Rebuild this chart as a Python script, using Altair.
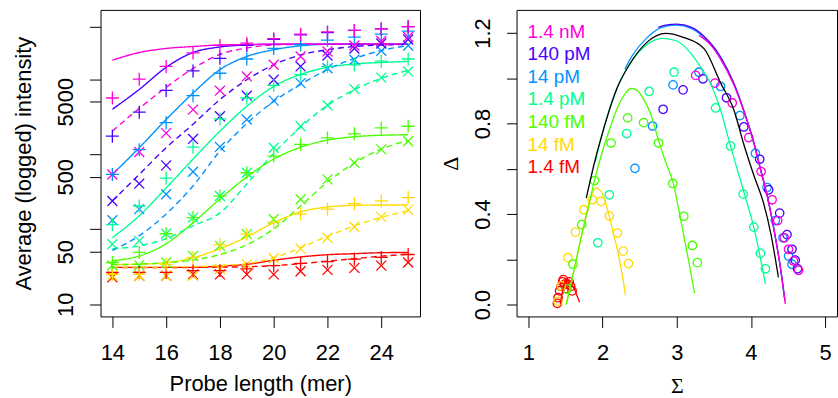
import altair as alt
import pandas as pd

# ---------------- shared categories ----------------
probe_lengths = [14, 15, 16, 17, 18, 19, 20, 21, 22, 23, 24, 25]
conc_labels = ["1.4 nM", "140 pM", "14 pM", "1.4 pM", "140 fM", "14 fM", "1.4 fM"]
conc_colors = ["#FF00DB", "#4900FF", "#0092FF", "#00FF92", "#49FF00", "#FFDB00", "#FF0000"]

# ---------------- left panel: observed "+" series ----------------
plus_1p4nM = [5620, 10000, 14800, 22400, 28200, 30200, 34700, 39800, 42700, 44700, 46800, 50100]
plus_140pM = [1740, 3630, 7080, 12900, 19000, 28200, 33900, 38900, 41700, 44700, 46800, 50100]
plus_14pM = [537, 1150, 2630, 6030, 12000, 18600, 25700, 28800, 33100, 36300, 39800, 43700]
plus_1p4pM = [115, 204, 479, 1240, 2950, 5620, 8300, 11500, 14800, 15500, 17400, 18600]
plus_140fM = [36, 49, 87, 143, 277, 566, 944, 1350, 1650, 1870, 2240, 2360]
plus_14fM = [25, 25, 34, 42, 62, 86, 123, 159, 185, 219, 238, 264]
plus_1p4fM = [26.5, 26.5, 26.5, 28, 28, 29.5, 32.7, 35, 37, 40, 42, 46]

# ---------------- left panel: observed "x" series ----------------
cross_1p4nM = [537, 1070, 1910, 3930, 7030, 10900, 15600, 20100, 23400, 28100, 32300, 36500]
cross_140pM = [238, 405, 710, 1600, 3210, 6030, 9840, 14800, 20700, 25700, 29900, 33800]
cross_14pM = [132, 185, 293, 584, 1250, 2900, 5180, 8870, 14000, 18200, 23900, 28100]
cross_1p4pM = [63, 70, 87, 143, 277, 566, 1220, 2360, 4490, 7390, 10500, 12700]
cross_140fM = [33, 33, 36, 44, 60, 86, 136, 251, 462, 770, 1160, 1490]
cross_14fM = [24, 24, 24, 24, 29.5, 34, 41, 55, 77, 108, 146, 181]
cross_1p4fM = [22.9, 24, 24, 25, 25, 25, 25, 27.5, 28.7, 30.5, 32.7, 36]

# ---------------- left panel: fitted curves (solid = "+", dashed = "x") ----------------
solid_1p4nM = [17900, 22700, 25700, 27300, 28600, 29000, 29400, 29400, 29400, 29400, 29400, 29400]
solid_140pM = [3970, 7300, 14400, 22700, 26900, 28600, 29200, 29400, 29400, 29400, 29400, 29400]
solid_14pM = [537, 1220, 2900, 6530, 13400, 20100, 24700, 27900, 29200, 29400, 29400, 29400]
solid_1p4pM = [77, 151, 355, 861, 2030, 4360, 8020, 11600, 14400, 16000, 16700, 17300]
solid_140fM = [38, 44, 64, 122, 253, 497, 861, 1240, 1540, 1710, 1790, 1820]
solid_14fM = [33.7, 34.2, 35.8, 41.7, 55, 79, 122, 170, 198, 208, 210, 210]
solid_1p4fM = [31, 31, 31, 31, 32.2, 34, 38.5, 42.7, 45.7, 47.2, 48.6, 49]

dashed_1p4nM = [2030, 4090, 7780, 13900, 21400, 26100, 28600, 29200, 29400, 29400, 29400, 29400]
dashed_140pM = [238, 537, 1220, 2510, 5350, 9840, 15600, 21100, 24700, 27300, 28600, 29000]
dashed_14pM = [52, 82, 160, 377, 1100, 2570, 5070, 8530, 13500, 18900, 24100, 28100]
dashed_1p4pM = [55, 60, 75, 111, 165, 401, 1030, 2290, 4490, 7240, 10300, 13100]
dashed_140fM = [33.7, 34.2, 35.8, 38.7, 46, 62, 101, 204, 426, 762, 1170, 1520]
dashed_14fM = [31.2, 31.2, 31.4, 31.6, 32.7, 34.7, 41.7, 56.6, 80.5, 111, 144, 175]
dashed_1p4fM = [30.7, 30.7, 30.7, 30.9, 31.2, 31.6, 32.7, 34.7, 37.5, 40.5, 43.7, 46.4]

# ---------------- right panel: observed (Sigma, Delta) ----------------
sig_1p4nM = [3.255, 3.514, 3.748, 3.970, 4.137, 4.285, 4.360, 4.450, 4.507, 4.574, 4.642]
del_1p4nM = [1.013, 0.979, 0.891, 0.738, 0.588, 0.463, 0.371, 0.295, 0.244, 0.192, 0.151]
sig_140pM = [2.816, 3.085, 3.353, 3.671, 3.903, 4.118, 4.239, 4.387, 4.486, 4.553, 4.597, 4.628]
del_140pM = [0.863, 0.949, 0.998, 0.914, 0.785, 0.642, 0.507, 0.404, 0.309, 0.244, 0.196, 0.158]
sig_14pM = [2.436, 2.674, 2.950, 3.299, 3.591, 3.850, 4.060, 4.217, 4.329, 4.432, 4.507, 4.553]
del_14pM = [0.602, 0.789, 0.971, 1.027, 0.964, 0.835, 0.668, 0.517, 0.371, 0.295, 0.214, 0.178]
sig_1p4pM = [1.936, 2.091, 2.325, 2.628, 2.964, 3.523, 3.725, 3.895, 4.038, 4.128, 4.195]
del_1p4pM = [0.273, 0.485, 0.756, 0.942, 1.027, 0.869, 0.701, 0.488, 0.342, 0.226, 0.158]
sig_140fM = [1.519, 1.600, 1.718, 1.890, 2.114, 2.338, 2.553, 2.754, 2.946, 3.094, 3.211, 3.278]
del_140fM = [0.068, 0.178, 0.353, 0.548, 0.714, 0.825, 0.804, 0.714, 0.535, 0.390, 0.261, 0.185]
sig_14fM = [1.399, 1.443, 1.533, 1.634, 1.748, 1.863, 1.980, 2.091, 2.199, 2.279, 2.349]
del_14fM = [0.014, 0.082, 0.207, 0.320, 0.419, 0.463, 0.456, 0.392, 0.316, 0.236, 0.181]
sig_1p4fM = [1.39, 1.40, 1.42, 1.44, 1.46, 1.47, 1.49, 1.51, 1.53, 1.55, 1.57, 1.59]
del_1p4fM = [0.005, 0.03, 0.06, 0.08, 0.10, 0.11, 0.09, 0.07, 0.09, 0.10, 0.08, 0.06]

# ---------------- right panel: fitted curves ----------------
csig_1p4nM = [3.30, 3.45, 3.59, 3.77, 3.90, 4.04, 4.13, 4.22, 4.31, 4.40, 4.463]
cdel_1p4nM = [1.19, 1.15, 1.085, 0.970, 0.859, 0.712, 0.595, 0.478, 0.331, 0.156, 0.002]
csig_140pM = [2.75, 2.85, 3.00, 3.20, 3.37, 3.59, 3.77, 3.90, 4.04, 4.13, 4.22, 4.31, 4.40, 4.46]
cdel_140pM = [1.225, 1.235, 1.24, 1.225, 1.185, 1.095, 0.978, 0.862, 0.715, 0.598, 0.48, 0.333, 0.158, 0.015]
csig_14pM = [2.30, 2.40, 2.60, 2.80, 2.99, 3.20, 3.37, 3.59, 3.77, 3.90, 4.04, 4.13, 4.22, 4.31, 4.40, 4.45]
cdel_14pM = [1.04, 1.10, 1.18, 1.225, 1.235, 1.22, 1.18, 1.09, 0.976, 0.859, 0.712, 0.595, 0.478, 0.331, 0.156, 0.03]
csig_1p4pM = [1.90, 2.00, 2.20, 2.40, 2.60, 2.81, 3.00, 3.19, 3.30, 3.456, 3.60, 3.725, 3.913, 4.038, 4.195]
cdel_1p4pM = [0.63, 0.76, 0.96, 1.08, 1.15, 1.177, 1.165, 1.11, 1.06, 0.976, 0.85, 0.70, 0.488, 0.342, 0.09]
csig_140fM = [1.51, 1.60, 1.70, 1.80, 1.90, 2.00, 2.10, 2.20, 2.30, 2.38, 2.45, 2.55, 2.65, 2.76, 2.85, 2.95, 3.05, 3.15, 3.24]
cdel_140fM = [0.0, 0.13, 0.28, 0.42, 0.56, 0.68, 0.78, 0.87, 0.93, 0.955, 0.95, 0.91, 0.84, 0.72, 0.63, 0.54, 0.38, 0.21, 0.05]
csig_14fM = [1.51, 1.60, 1.70, 1.78, 1.84, 1.91, 1.98, 2.05, 2.12, 2.20, 2.26, 2.31]
cdel_14fM = [0.0, 0.13, 0.28, 0.40, 0.47, 0.515, 0.50, 0.44, 0.35, 0.24, 0.14, 0.04]
csig_1p4fM = [1.43, 1.46, 1.49, 1.52, 1.55, 1.59, 1.63, 1.66, 1.69]
cdel_1p4fM = [0.0, 0.06, 0.095, 0.11, 0.105, 0.085, 0.06, 0.035, 0.01]
csig_black = [1.78, 1.90, 2.00, 2.20, 2.40, 2.60, 2.85, 3.10, 3.37, 3.59, 3.77, 3.90, 4.04, 4.17, 4.27, 4.37]
cdel_black = [0.47, 0.64, 0.76, 0.96, 1.08, 1.16, 1.199, 1.18, 1.13, 0.98, 0.86, 0.712, 0.57, 0.448, 0.31, 0.12]

legend_rows = [0, 1, 2, 3, 4, 5, 6]

# ---------------- build tables (drawn from lowest to highest concentration) ----------------
def by_length(series_list, kind):
    rows = []
    for name, ys in reversed(list(zip(conc_labels, series_list))):
        for L, v in zip(probe_lengths, ys):
            rows.append({"L": L, "v": v, "conc": name, "kind": kind})
    return rows

df_plus = pd.DataFrame(by_length([plus_1p4nM, plus_140pM, plus_14pM, plus_1p4pM, plus_140fM, plus_14fM, plus_1p4fM], "+"))
df_cross = pd.DataFrame(by_length([cross_1p4nM, cross_140pM, cross_14pM, cross_1p4pM, cross_140fM, cross_14fM, cross_1p4fM], "x"))
df_fit = pd.DataFrame(
    by_length([solid_1p4nM, solid_140pM, solid_14pM, solid_1p4pM, solid_140fM, solid_14fM, solid_1p4fM], "solid")
    + by_length([dashed_1p4nM, dashed_140pM, dashed_14pM, dashed_1p4pM, dashed_140fM, dashed_14fM, dashed_1p4fM], "dashed")
)

def pairs(sigs, dels, names):
    rows = []
    for name, xs, ys in reversed(list(zip(names, sigs, dels))):
        for i, (s, d) in enumerate(zip(xs, ys)):
            rows.append({"S": s, "D": d, "conc": name, "i": i})
    return pd.DataFrame(rows)

df_ma = pairs([sig_1p4nM, sig_140pM, sig_14pM, sig_1p4pM, sig_140fM, sig_14fM, sig_1p4fM],
              [del_1p4nM, del_140pM, del_14pM, del_1p4pM, del_140fM, del_14fM, del_1p4fM], conc_labels)
df_ma_fit = pairs([csig_1p4nM, csig_140pM, csig_14pM, csig_1p4pM, csig_140fM, csig_14fM, csig_1p4fM],
                  [cdel_1p4nM, cdel_140pM, cdel_14pM, cdel_1p4pM, cdel_140fM, cdel_14fM, cdel_1p4fM], conc_labels)
df_black = pairs([csig_black], [cdel_black], ["all"])
df_legend = pd.DataFrame({"conc": conc_labels, "row": legend_rows})

# ---------------- styles ----------------
PLUS = "M-1,0L1,0M0,-1L0,1"
CROSS = "M-1,-1L1,1M-1,1L1,-1"
FONT = "Liberation Sans"
color_scale = alt.Scale(domain=conc_labels, range=conc_colors)
col = alt.Color("conc:N", scale=color_scale, legend=None)

# ---------------- left panel ----------------
x_left = alt.X("L:Q", scale=alt.Scale(domain=[13.56, 25.44], nice=False, zero=False),
               axis=alt.Axis(values=[14, 16, 18, 20, 22, 24], format="d", title="Probe length (mer)",
                             tickSize=11, labelPadding=15, titlePadding=10))
y_left = alt.Y("v:Q", scale=alt.Scale(type="log", domain=[6.87, 83960], nice=False),
               axis=alt.Axis(values=[10, 50, 100, 500, 1000, 5000, 10000, 50000],
                             labelExpr="indexof([10, 50, 500, 5000], datum.value) >= 0 ? format(datum.value, 'd') : ''",
                             labelAngle=-90, labelAlign="center", labelBaseline="alphabetic",
                             labelPadding=17, tickSize=11, labelOverlap=False,
                             title="Average (logged) intensity", titlePadding=19))

left_lines = alt.Chart(df_fit).mark_line(strokeWidth=1.4, interpolate="monotone", clip=True).encode(
    x=x_left, y=y_left, color=col,
    strokeDash=alt.StrokeDash("kind:N", scale=alt.Scale(domain=["solid", "dashed"], range=[[1, 0], [6, 4]]), legend=None),
    order=alt.Order("L:Q"),
)
left_plus = alt.Chart(df_plus).mark_point(shape=PLUS, size=169, filled=False, strokeWidth=1.3, opacity=1).encode(
    x=x_left, y=y_left, color=col)
left_cross = alt.Chart(df_cross).mark_point(shape=CROSS, size=100, filled=False, strokeWidth=1.3, opacity=1).encode(
    x=x_left, y=y_left, color=col)

left = alt.layer(left_lines, left_cross, left_plus).properties(width=321, height=308)

# ---------------- right panel ----------------
x_right = alt.X("S:Q", scale=alt.Scale(domain=[0.84, 5.16], nice=False, zero=False),
                axis=alt.Axis(values=[1, 2, 3, 4, 5], format="d", title="Σ", titleFont="Liberation Serif",
                              tickSize=11, labelPadding=15, titlePadding=12))
y_right = alt.Y("D:Q", scale=alt.Scale(domain=[-0.0528, 1.3025], nice=False, zero=False),
                axis=alt.Axis(values=[0.0, 0.2, 0.4, 0.6, 0.8, 1.0, 1.2],
                              labelExpr="indexof([0, 0.4, 0.8, 1.2], datum.value) >= 0 ? format(datum.value, '.1f') : ''",
                              labelAngle=-90, labelAlign="center", labelBaseline="alphabetic",
                              labelPadding=17, tickSize=10, labelOverlap=False,
                              title="Δ", titleFont="Liberation Serif", titlePadding=9))

right_pts = alt.Chart(df_ma).mark_point(shape="circle", size=72, filled=False, strokeWidth=1.3, opacity=1).encode(
    x=x_right, y=y_right, color=col)
right_fit = alt.Chart(df_ma_fit).mark_line(strokeWidth=1.3, interpolate="monotone", clip=True).encode(
    x=x_right, y=y_right, color=col, order=alt.Order("i:Q"))
right_black = alt.Chart(df_black).mark_line(strokeWidth=1.3, interpolate="monotone", clip=True, color="black").encode(
    x=x_right, y=y_right, order=alt.Order("i:Q"))

right_main = alt.layer(right_pts, right_fit, right_black)
legend_text = alt.Chart(df_legend).mark_text(align="left", baseline="alphabetic", fontSize=19, font=FONT).encode(
    x=alt.value(11),
    y=alt.Y("row:Q", scale=alt.Scale(domain=[0, 6], range=[28, 164]), axis=None),
    text="conc:N", color=col,
)
right = alt.layer(right_main, legend_text).resolve_scale(y="independent").properties(width=322, height=308)

chart = alt.hconcat(left, right, spacing=18).properties(
    padding={"left": 12, "top": 8, "right": 0, "bottom": 0}
).configure_view(stroke="black", strokeWidth=1).configure_axis(
    labelFont=FONT, labelFontSize=22, labelColor="black",
    titleFont=FONT, titleFontSize=22, titleColor="black", titleFontWeight="normal",
    tickColor="black", tickWidth=1, grid=False, domain=False,
)

chart.save("out.html", embed_options={"renderer": "svg", "actions": False})
